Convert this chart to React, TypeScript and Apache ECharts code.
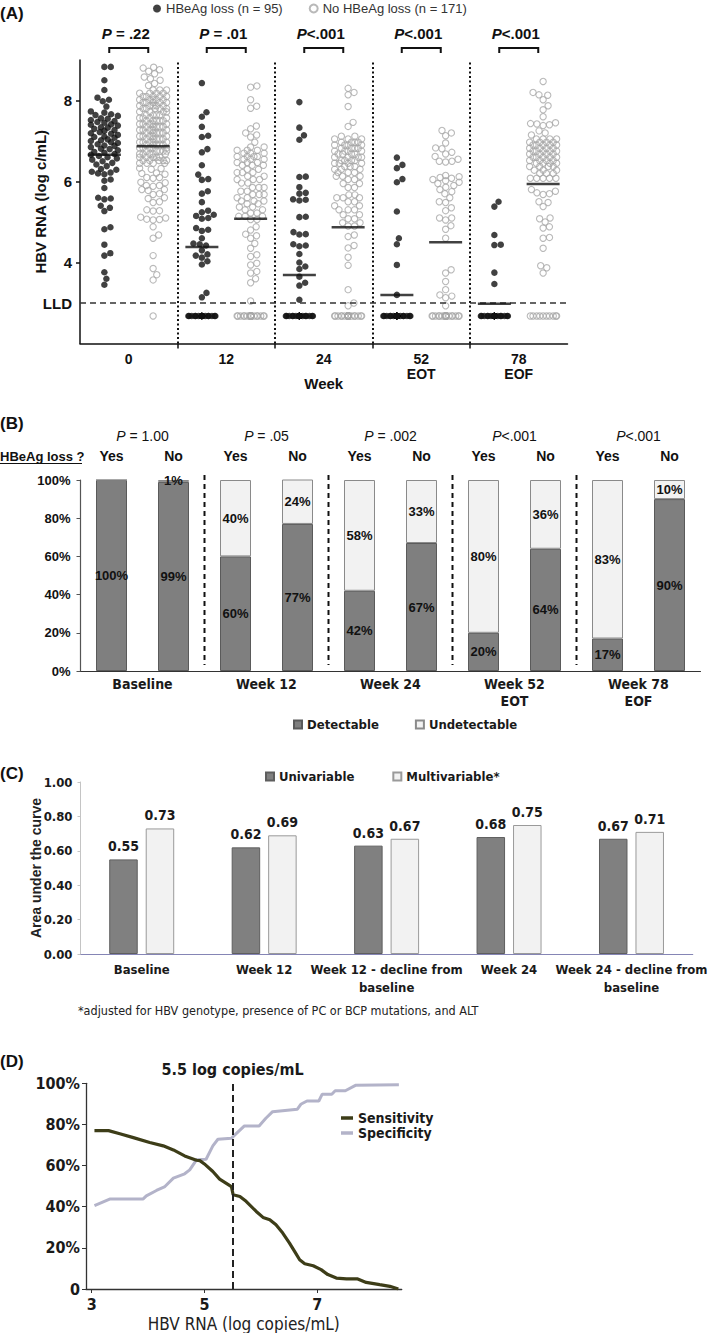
import React, { useEffect, useRef } from "react";
import * as echarts from "echarts";

const ARIAL = "'Liberation Sans', Arial, sans-serif";
const NARROW = "'Liberation Sans Narrow', 'Arial Narrow', 'DejaVu Sans Condensed', 'Liberation Sans', sans-serif";

// ---------------- Panel A data ----------------
const weekLabels = ["0", "12", "24", "52\nEOT", "78\nEOF"];
const pValuesA = [" = .22", " = .01", "<.001", "<.001", "<.001"];
const nameLoss = "HBeAg loss (n = 95)";
const nameNoLoss = "No HBeAg loss (n = 171)";

const wk0Loss = [8.83, 8.83, 8.5, 8.26, 8.07, 8.02, 7.98, 7.85,
  7.73, 7.7, 7.66, 7.64, 7.62, 7.56, 7.55, 7.52, 7.49, 7.47, 7.45, 7.41, 7.4, 7.38, 7.34, 7.33, 7.3, 7.27,
  7.25, 7.22, 7.19, 7.18, 7.15, 7.11, 7.1, 7.08, 7.04, 7.02, 7.0, 6.97, 6.95, 6.92, 6.89, 6.88, 6.85, 6.81,
  6.8, 6.77, 6.73, 6.71, 6.68, 6.66, 6.63, 6.6, 6.57, 6.54, 6.5, 6.46, 6.42, 6.38, 6.31, 6.29, 6.24, 6.22,
  6.2, 6.18, 6.05, 6.02, 5.84, 5.6, 5.58, 5.56, 5.4, 5.35, 5.27, 4.87, 4.82, 4.44, 4.23, 4.17, 3.76, 3.6, 3.45];
const wk0NoLoss = [8.82, 8.8, 8.76, 8.72, 8.66, 8.58, 8.54, 8.5, 8.42, 8.37,
  8.26, 8.26, 8.26, 8.18, 8.18, 8.18, 8.18, 8.1, 8.1, 8.1, 8.1, 8.1, 8.02, 8.02, 8.02, 8.02, 8.02,
  7.95, 7.95, 7.95, 7.95, 7.95, 7.87, 7.87, 7.87, 7.87, 7.87, 7.8, 7.8, 7.8, 7.8, 7.8, 7.72, 7.72, 7.72, 7.72,
  7.64, 7.64, 7.64, 7.64, 7.57, 7.57, 7.57, 7.57, 7.5, 7.5, 7.5, 7.5, 7.5, 7.42, 7.42, 7.42, 7.42, 7.42,
  7.35, 7.35, 7.35, 7.35, 7.35, 7.27, 7.27, 7.27, 7.27, 7.27, 7.2, 7.2, 7.2, 7.2, 7.2, 7.12, 7.12, 7.12, 7.12, 7.12,
  7.05, 7.05, 7.05, 7.05, 7.05, 6.97, 6.97, 6.97, 6.97, 6.97, 6.9, 6.9, 6.9, 6.9, 6.9, 6.83, 6.83, 6.83, 6.83, 6.83,
  6.75, 6.75, 6.75, 6.75, 6.75, 6.68, 6.68, 6.68, 6.68, 6.68, 6.6, 6.6, 6.6, 6.6, 6.6, 6.52, 6.52, 6.52, 6.52, 6.52,
  6.45, 6.45, 6.45, 6.45,
  6.33, 6.32, 6.3, 6.21, 6.2, 6.18, 6.1, 6.1, 6.08, 5.98, 5.97, 5.9, 5.9, 5.88, 5.8, 5.8, 5.78, 5.7, 5.68, 5.6,
  5.58, 5.5, 5.48, 5.3, 5.28, 5.27, 5.12, 5.1, 5.07, 5.06, 5.05, 4.88, 4.68, 4.6, 4.17, 3.85, 3.7, 3.57];
const wk12Loss = [8.43, 7.71, 7.6, 7.35, 7.13, 7.1, 6.8, 6.72, 6.4, 6.17, 6.06, 6.04, 5.76, 5.7, 5.49, 5.28,
  5.24, 5.18, 5.15, 5.1, 5.08, 4.85, 4.81, 4.78, 4.6, 4.47, 4.45, 4.42, 4.3, 4.2, 4.17, 4.12, 4.03, 3.95, 3.25, 3.14];
const wk12NoLoss = [8.36, 8.33, 8.02, 7.86, 7.81, 7.37, 7.3, 7.2, 7.15, 7.1, 6.97,
  6.85, 6.85, 6.77, 6.77, 6.77, 6.7, 6.7, 6.7, 6.62, 6.62, 6.62, 6.62, 6.55, 6.55, 6.55, 6.47, 6.47, 6.47,
  6.4, 6.4, 6.4, 6.3, 6.3, 6.22, 6.22, 6.22, 6.13, 6.13, 6.05, 6.05, 6.05, 5.96, 5.96,
  5.85, 5.85, 5.85, 5.76, 5.76, 5.68, 5.68, 5.68, 5.6, 5.6, 5.52, 5.52, 5.52, 5.45, 5.45, 5.37, 5.37, 5.3, 5.3,
  5.22, 5.22, 5.14, 5.14, 5.14, 5.06, 5.06,
  4.88, 4.8, 4.7, 4.66, 4.6, 4.47, 4.35, 4.19, 4.15, 3.98, 3.94, 3.78, 3.74, 3.6, 3.5, 3.05];
const wk24Loss = [7.96, 7.33, 7.14, 7.03, 6.12, 6.11, 5.86, 5.72, 5.7, 5.56, 5.55, 5.53, 5.13, 5.12, 4.75, 4.7,
  4.69, 4.45, 4.42, 4.4, 4.21, 4.0, 3.9, 3.84, 3.65, 3.5, 3.43, 3.08];
const wk24NoLoss = [8.3, 8.2, 8.14, 7.85, 7.46, 7.36,
  7.12, 7.12, 7.05, 7.05, 7.05, 6.97, 6.97, 6.97, 6.97, 6.9, 6.9, 6.9, 6.9, 6.82, 6.82, 6.82, 6.82,
  6.75, 6.75, 6.75, 6.75, 6.68, 6.68, 6.68, 6.68, 6.6, 6.6, 6.6, 6.6, 6.52, 6.52, 6.52, 6.52, 6.45, 6.45, 6.45, 6.45,
  6.37, 6.37, 6.37, 6.3, 6.3, 6.3, 6.22, 6.22, 6.22, 6.13, 6.13, 6.13, 6.05, 6.05, 5.95, 5.95, 5.85, 5.85,
  5.67, 5.67, 5.6, 5.6, 5.6, 5.5, 5.5, 5.4, 5.4, 5.3, 5.3, 5.3,
  5.18, 5.18, 5.08, 5.08, 4.98, 4.98, 4.9, 4.9,
  4.68, 4.64, 4.42, 4.36, 4.13, 3.93, 3.33, 3.0, 2.93];
const wk52Loss = [6.59, 6.41, 6.33, 6.06, 5.98, 5.26, 4.6, 4.45, 3.94, 3.2];
const wk52NoLoss = [7.26, 7.2, 7.13, 6.95, 6.83, 6.81, 6.72, 6.68, 6.62, 6.55, 6.5, 6.5, 6.48, 6.15, 6.12, 6.1,
  6.08, 6.05, 6.02, 5.98, 5.95, 5.9, 5.86, 5.8, 5.75, 5.7, 5.6, 5.5, 5.48, 5.35, 5.28, 5.1, 5.1, 5.05, 4.91,
  4.82, 4.6, 3.82, 3.74, 3.53, 3.33, 3.2, 3.17, 3.13, 2.93];
const wk78Loss = [5.5, 5.38, 4.68, 4.44, 4.43, 3.75, 3.47];
const wk78NoLoss = [8.47, 8.2, 8.14, 8.13, 8.02, 7.87, 7.77, 7.6, 7.45, 7.43, 7.42, 7.4, 7.38, 7.25, 7.2, 7.15,
  7.05, 7.05, 7.05, 7.05, 6.97, 6.97, 6.97, 6.97, 6.9, 6.9, 6.9, 6.9, 6.9, 6.82, 6.82, 6.82, 6.82,
  6.75, 6.75, 6.75, 6.75, 6.75, 6.68, 6.68, 6.68, 6.68, 6.6, 6.6, 6.6, 6.6, 6.6, 6.52, 6.52, 6.52, 6.52,
  6.45, 6.45, 6.45, 6.45, 6.37, 6.37, 6.37, 6.37, 6.28, 6.28, 6.28, 6.2, 6.2, 6.2,
  6.08, 6.08, 6.08, 6.08, 6.08, 5.8, 5.76, 5.72, 5.7, 5.68, 5.5, 5.48, 5.38, 5.1, 5.08, 5.0, 4.88, 4.85,
  4.62, 4.6, 4.35, 3.92, 3.87, 3.74];
const undetectableLoss = [0, 23, 38, 40, 34];
const undetectableNoLoss = [1, 26, 44, 25, 10];
const undetectablePlotValue = 2.68;
const lldValue = 3;
const medianLoss = [6.66, 4.38, 3.69, 3.2, 2.98];
const medianNoLoss = [6.87, 5.08, 4.87, 4.5, 5.94];

// ---------------- Panel B data ----------------
const timepointsB = ["Baseline", "Week 12", "Week 24", "Week 52\nEOT", "Week 78\nEOF"];
const pValuesB = [" = 1.00", " = .05", " = .002", "<.001", "<.001"];
const barKeysB = ["BL-Y", "BL-N", "W12-Y", "W12-N", "W24-Y", "W24-N", "W52-Y", "W52-N", "W78-Y", "W78-N"];
const yesNoB = ["Yes", "No", "Yes", "No", "Yes", "No", "Yes", "No", "Yes", "No"];
const detectablePct = [100, 99, 60, 77, 42, 67, 20, 64, 17, 90];
const undetectablePct = [0, 1, 40, 24, 58, 33, 80, 36, 83, 10];

// ---------------- Panel C data ----------------
const predictorsC = ["Baseline", "Week 12", "Week 12 - decline from\nbaseline", "Week 24", "Week 24 - decline from\nbaseline"];
const aucUnivariable = [0.55, 0.62, 0.63, 0.68, 0.67];
const aucMultivariable = [0.73, 0.69, 0.67, 0.75, 0.71];

// ---------------- Panel D data ----------------
const sensitivityCurve = [[3.05, 77], [3.3, 77], [3.5, 75.5], [3.74, 73.6], [4.03, 71.2], [4.27, 69.6], [4.45, 67.6],
  [4.65, 64.7], [4.86, 62.6], [4.92, 62.4], [5.0, 60.8], [5.15, 57.1], [5.27, 53.4], [5.48, 49.8], [5.51, 45.8],
  [5.63, 45], [5.74, 42.6], [5.92, 37.7], [6.04, 34.8], [6.16, 33.7], [6.27, 31.2], [6.39, 27.2], [6.51, 22.3],
  [6.6, 18.3], [6.69, 14.2], [6.78, 12.3], [6.93, 11.3], [7.07, 9.4], [7.19, 7], [7.34, 5.3], [7.52, 4.9],
  [7.72, 4.9], [7.87, 3.2], [8.11, 2.1], [8.29, 1.3], [8.44, 0]];
const specificityCurve = [[3.05, 40.5], [3.32, 43.7], [3.91, 43.7], [3.97, 45.3], [4.15, 47.9], [4.3, 49.8],
  [4.45, 53.9], [4.65, 56], [4.74, 57.9], [4.86, 62.8], [5.03, 63.1], [5.15, 69.6], [5.24, 72.8], [5.48, 73.3],
  [5.56, 75.4], [5.71, 79.3], [5.97, 79.3], [6.09, 83], [6.21, 86.2], [6.65, 87.4], [6.71, 89.8], [6.82, 91.4],
  [7.03, 91.4], [7.09, 94.7], [7.26, 94.7], [7.32, 96.4], [7.5, 96.4], [7.68, 99], [8.45, 99.3]];
const cutoffValue = 5.5;

// ---------------- layout ----------------
const GA = { left: 80, top: 60, width: 487.5, height: 283.5 };
const A_MIN = 2, A_MAX = 9;
const GB = { left: 80.5, top: 480, width: 620, height: 191 };
const GC = { left: 80.5, top: 782, width: 627.5, height: 172 };
const GD = { left: 86, top: 1083.3, width: 315.7, height: 206 };

function swarmOffsets(values: number[], diam: number, maxHalf: number, pxPerUnit: number): number[] {
  const order = values.map((_, i) => i).sort((a, b) => values[a] - values[b]);
  const placed: { x: number; y: number }[] = [];
  const out: number[] = values.map(() => 0);
  const d2 = diam * diam;
  const fallback = [0, maxHalf, -maxHalf, maxHalf / 2, -maxHalf / 2, maxHalf / 4, -maxHalf / 4, (3 * maxHalf) / 4, (-3 * maxHalf) / 4];
  for (const i of order) {
    const y = values[i] * pxPerUnit;
    const near = placed.filter((q) => Math.abs(q.y - y) < diam);
    const cands = [0];
    for (const q of near) {
      const dx = Math.sqrt(Math.max(0, d2 - (q.y - y) * (q.y - y)));
      cands.push(q.x + dx, q.x - dx);
    }
    cands.sort((a, b) => Math.abs(a) - Math.abs(b));
    let best: number | null = null;
    for (const c of cands) {
      if (Math.abs(c) > maxHalf + 1e-6) continue;
      let ok = true;
      for (const q of near) {
        if ((q.x - c) * (q.x - c) + (q.y - y) * (q.y - y) < d2 - 1e-6) { ok = false; break; }
      }
      if (ok) { best = c; break; }
    }
    if (best === null) {
      let bestScore = -1;
      for (const c of fallback) {
        let s = Infinity;
        for (const q of near) s = Math.min(s, Math.hypot(q.x - c, q.y - y));
        if (s > bestScore + 1e-6) { bestScore = s; best = c; }
      }
    }
    placed.push({ x: best as number, y });
    out[i] = best as number;
  }
  return out;
}

function buildSwarm(byWeek: number[][], undet: number[], side: number) {
  const pxPerY = GA.height / (A_MAX - A_MIN);
  const pxPerGroup = GA.width / 5;
  const pts: number[][] = [];
  byWeek.forEach((vals, g) => {
    const all = vals.concat(Array.from({ length: undet[g] }, () => undetectablePlotValue));
    const offs = swarmOffsets(all, 6.4, 13.5, pxPerY);
    all.forEach((v, k) => pts.push([g + 0.5 + side * 0.25 + offs[k] / pxPerGroup, v]));
  });
  return pts;
}

const lossByWeek = [wk0Loss, wk12Loss, wk24Loss, wk52Loss, wk78Loss];
const noLossByWeek = [wk0NoLoss, wk12NoLoss, wk24NoLoss, wk52NoLoss, wk78NoLoss];

function txt(text: string, x: number, y: number, extra: any = {}) {
  return {
    type: "text", x, y, silent: true,
    style: {
      text, fill: "#111", fontFamily: ARIAL, fontSize: 14,
      align: "left", verticalAlign: "middle", textAlign: "left", textVerticalAlign: "middle",
      ...extra,
    },
  };
}

function buildOption() {
  const pxPerGroup = GA.width / 5;
  const graphic: any[] = [];
  graphic.push(txt("(A)", 0, 13, { fontWeight: "bold", fontSize: 17 }));
  graphic.push(txt("(B)", 0, 423, { fontWeight: "bold", fontSize: 17 }));
  graphic.push(txt("(C)", 0, 773, { fontWeight: "bold", fontSize: 17 }));
  graphic.push(txt("(D)", 0, 1061, { fontWeight: "bold", fontSize: 17 }));
  pValuesA.forEach((p, g) => {
    const c = GA.left + (g + 0.5) * pxPerGroup;
    graphic.push(txt("{i|P}" + p, c - 3, 33, {
      fontWeight: "bold", fontSize: 15, align: "center", textAlign: "center",
      rich: { i: { fontStyle: "italic", fontWeight: "bold", fontSize: 15, fontFamily: ARIAL, fill: "#111" } },
    }));
    graphic.push({
      type: "polyline", silent: true,
      shape: { points: [[c - 19.5, 53], [c - 19.5, 48], [c + 19.5, 48], [c + 19.5, 53]] },
      style: { stroke: "#111", lineWidth: 2, fill: "none" },
    });
  });
  for (let k = 1; k <= 4; k++) {
    const x = GB.left + (GB.width / 5) * k;
    graphic.push({
      type: "line", silent: true,
      shape: { x1: x, y1: GB.top - 5, x2: x, y2: GB.top + GB.height - 6 },
      style: { stroke: "#111", lineWidth: 2, lineDash: [5, 4] },
    });
  }
  graphic.push(txt("HBeAg loss ?", 0, 456, { fontWeight: "bold", fontSize: 13 }));
  graphic.push({ type: "line", silent: true, shape: { x1: 0, y1: 463.5, x2: 82, y2: 463.5 }, style: { stroke: "#111", lineWidth: 1.2 } });
  graphic.push(txt("*adjusted for HBV genotype, presence of PC or BCP mutations, and ALT", 78, 1010, { fontFamily: NARROW, fontSize: 12.5, fill: "#222" }));

  const blackPts = buildSwarm(lossByWeek, undetectableLoss, -1);
  const greyPts = buildSwarm(noLossByWeek, undetectableNoLoss, 1);
  const medianPts = medianLoss.map((m, g) => [g + 0.25, m]).concat(medianNoLoss.map((m, g) => [g + 0.75, m]));

  const boldA = { fontFamily: ARIAL, fontWeight: "bold", color: "#111" };
  const narrowBold = { fontFamily: NARROW, fontWeight: "bold", color: "#1a1a1a" };

  return {
    animation: false,
    backgroundColor: "#ffffff",
    textStyle: { fontFamily: ARIAL },
    grid: [GA, GB, GC, GD],
    legend: [
      {
        data: [nameLoss, nameNoLoss], left: 148, top: -3, icon: "circle", itemWidth: 8, itemHeight: 8, itemGap: 26,
        textStyle: { fontFamily: ARIAL, fontSize: 13, color: "#333" }, selectedMode: false,
      },
      {
        data: ["Detectable", "Undetectable"], left: 288, top: 713, icon: "rect", itemWidth: 8, itemHeight: 8, itemGap: 36,
        textStyle: { ...narrowBold, fontSize: 13 }, selectedMode: false,
      },
      {
        data: ["Univariable", "Multivariable*"], left: 260, top: 765, icon: "rect", itemWidth: 8, itemHeight: 8, itemGap: 38,
        textStyle: { ...narrowBold, fontSize: 13 }, selectedMode: false,
      },
      {
        data: ["Sensitivity", "Specificity"], left: 336, top: 1106, orient: "vertical", icon: "rect", itemWidth: 12,
        itemHeight: 3.5, itemGap: 1, textStyle: { ...narrowBold, fontSize: 14 }, selectedMode: false,
      },
    ],
    xAxis: [
      {
        type: "value", gridIndex: 0, min: 0, max: 5, splitLine: { show: false },
        axisLine: { show: true, lineStyle: { color: "#111", width: 1.5 } },
        axisTick: { show: true, customValues: [1, 2, 3, 4], length: 5, lineStyle: { color: "#111", width: 1.5 } },
        axisLabel: {
          customValues: [0.5, 1.5, 2.5, 3.5, 4.5], formatter: (v: number) => weekLabels[Math.floor(v)],
          ...boldA, fontSize: 14, lineHeight: 15, margin: 8,
        },
        name: "Week", nameLocation: "middle", nameGap: 32, nameMoveOverlap: false,
        nameTextStyle: { ...boldA, fontSize: 15 },
      },
      {
        type: "category", gridIndex: 1, data: barKeysB,
        axisLine: { show: true, lineStyle: { color: "#333", width: 1.2 } },
        axisTick: { show: false }, axisLabel: { show: false },
      },
      {
        type: "category", gridIndex: 1, data: timepointsB, position: "bottom",
        axisLine: { show: false }, axisTick: { show: false },
        axisLabel: { ...narrowBold, fontSize: 14, lineHeight: 17, margin: 4 },
      },
      {
        type: "category", gridIndex: 1, data: yesNoB, position: "top",
        axisLine: { show: false }, axisTick: { show: false },
        axisLabel: { ...boldA, fontSize: 14, margin: 17 },
      },
      {
        type: "category", gridIndex: 1, data: pValuesB.map((p) => "{i|P}" + p), position: "top",
        axisLine: { show: false }, axisTick: { show: false },
        axisLabel: {
          fontFamily: ARIAL, fontSize: 14, color: "#111", margin: 37, formatter: (v: string) => v,
          rich: { i: { fontStyle: "italic", fontFamily: ARIAL, fontSize: 14, color: "#111" } },
        },
      },
      {
        type: "category", gridIndex: 2, data: predictorsC,
        axisLine: { show: true, lineStyle: { color: "#8585b5", width: 1.2 } },
        axisTick: { show: false },
        axisLabel: { ...narrowBold, fontSize: 13, lineHeight: 18, margin: 6, interval: 0 },
      },
      {
        type: "value", gridIndex: 3, min: 2.9, max: 8.5, splitLine: { show: false },
        axisLine: { show: true, lineStyle: { color: "#333", width: 1.3 } },
        axisTick: { show: true, customValues: [3, 5, 7], length: 4, lineStyle: { color: "#333" } },
        axisLabel: { customValues: [3, 5, 7], ...narrowBold, fontSize: 16, margin: 7 },
        name: "HBV RNA (log copies/mL)", nameLocation: "middle", nameGap: 26, nameMoveOverlap: false,
        nameTextStyle: { fontFamily: NARROW, fontSize: 17, color: "#222" },
      },
    ],
    yAxis: [
      {
        type: "value", gridIndex: 0, min: A_MIN, max: A_MAX, splitLine: { show: false },
        axisLine: { show: true, lineStyle: { color: "#111", width: 1.5 } },
        axisTick: { show: true, customValues: [4, 6, 8], length: 4, lineStyle: { color: "#111", width: 1.5 } },
        axisLabel: {
          customValues: [3, 4, 6, 8], formatter: (v: number) => (v === lldValue ? "LLD" : String(v)),
          ...boldA, fontSize: 15, margin: 8,
        },
        name: "HBV RNA (log c/mL)", nameLocation: "middle", nameGap: 32, nameRotate: 90, nameMoveOverlap: false,
        nameTextStyle: { ...boldA, fontSize: 15 },
      },
      {
        type: "value", gridIndex: 1, min: 0, max: 100, interval: 20, splitLine: { show: false },
        axisLine: { show: true, lineStyle: { color: "#555", width: 1.2 } },
        axisTick: { show: true, length: 4, lineStyle: { color: "#555" } },
        axisLabel: { formatter: "{value}%", ...boldA, fontSize: 13, margin: 10 },
      },
      {
        type: "value", gridIndex: 2, min: 0, max: 1, interval: 0.2, splitLine: { show: false },
        axisLine: { show: true, lineStyle: { color: "#c4c4c4" } },
        axisTick: { show: true, length: 3, lineStyle: { color: "#c4c4c4" } },
        axisLabel: { formatter: (v: number) => v.toFixed(2), ...narrowBold, fontSize: 13, margin: 8 },
        name: "Area under the curve", nameLocation: "middle", nameGap: 38, nameRotate: 90, nameMoveOverlap: false,
        nameTextStyle: { fontFamily: ARIAL, fontWeight: "bold", fontSize: 14, color: "#222" },
      },
      {
        type: "value", gridIndex: 3, min: 0, max: 100, interval: 20, splitLine: { show: false },
        axisLine: { show: true, lineStyle: { color: "#333", width: 1.3 } },
        axisTick: { show: true, length: 4, lineStyle: { color: "#333" } },
        axisLabel: { formatter: (v: number) => (v === 0 ? "0" : v + "%"), ...narrowBold, fontSize: 16, margin: 6 },
      },
    ],
    series: [
      {
        type: "scatter", name: nameLoss, xAxisIndex: 0, yAxisIndex: 0, data: blackPts, symbol: "circle",
        symbolSize: 6.5, itemStyle: { color: "#111" }, z: 3, silent: true,
        markLine: {
          silent: true, symbol: ["none", "none"], label: { show: false },
          data: [
            ...[1, 2, 3, 4].map((x) => ({ xAxis: x, lineStyle: { color: "#111", width: 2, type: [2, 2.5] } })),
            { yAxis: lldValue, lineStyle: { color: "#333", width: 1.5, type: [6, 4] } },
          ],
        },
      },
      {
        type: "scatter", name: nameNoLoss, xAxisIndex: 0, yAxisIndex: 0, data: greyPts, symbol: "circle",
        symbolSize: 6.3, itemStyle: { color: "rgba(255,255,255,0)", borderColor: "#a8a8a8", borderWidth: 1.1 },
        z: 3, silent: true,
      },
      {
        type: "scatter", name: "median", xAxisIndex: 0, yAxisIndex: 0, data: medianPts, symbol: "rect",
        symbolSize: [33, 2.5], itemStyle: { color: "#111" }, z: 5, silent: true,
      },
      {
        type: "bar", name: "Detectable", xAxisIndex: 1, yAxisIndex: 1, stack: "b", data: detectablePct, barWidth: "50%",
        itemStyle: { color: "#7f7f7f", borderColor: "#5a5a5a", borderWidth: 1 },
        label: { show: true, position: "inside", formatter: (p: any) => (p.value ? p.value + "%" : ""), ...boldA, fontSize: 13 },
      },
      {
        type: "bar", name: "Undetectable", xAxisIndex: 1, yAxisIndex: 1, stack: "b", data: undetectablePct, barWidth: "50%",
        itemStyle: { color: "#f2f2f2", borderColor: "#8a8a8a", borderWidth: 1 },
        label: { show: true, position: "inside", formatter: (p: any) => (p.value ? p.value + "%" : ""), ...boldA, fontSize: 13 },
      },
      {
        type: "bar", name: "Univariable", xAxisIndex: 5, yAxisIndex: 2, data: aucUnivariable, barWidth: 28.5, barGap: "28%",
        itemStyle: { color: "#808080", borderColor: "#5e5e5e", borderWidth: 1 },
        label: { show: true, position: "top", distance: 6, formatter: (p: any) => p.value.toFixed(2), ...narrowBold, fontSize: 14 },
      },
      {
        type: "bar", name: "Multivariable*", xAxisIndex: 5, yAxisIndex: 2, data: aucMultivariable, barWidth: 28.5, barGap: "28%",
        itemStyle: { color: "#f2f2f2", borderColor: "#9a9a9a", borderWidth: 1 },
        label: { show: true, position: "top", distance: 6, formatter: (p: any) => p.value.toFixed(2), ...narrowBold, fontSize: 14 },
      },
      {
        type: "line", name: "Sensitivity", xAxisIndex: 6, yAxisIndex: 3, data: sensitivityCurve, showSymbol: false,
        symbol: "none", color: "#3d3d18", lineStyle: { color: "#3d3d18", width: 3.2 }, silent: true, z: 3,
        markLine: {
          silent: true, symbol: ["none", "none"],
          lineStyle: { color: "#222", width: 2, type: [7, 4] },
          label: { show: true, position: "end", distance: 6, formatter: "5.5 log copies/mL", ...narrowBold, fontSize: 16 },
          data: [{ xAxis: cutoffValue }],
        },
      },
      {
        type: "line", name: "Specificity", xAxisIndex: 6, yAxisIndex: 3, data: specificityCurve, showSymbol: false,
        symbol: "none", color: "#b3b3c9", lineStyle: { color: "#b3b3c9", width: 3 }, silent: true, z: 2,
      },
    ],
    graphic,
  };
}

export default function App() {
  const ref = useRef<HTMLDivElement>(null);
  useEffect(() => {
    if (!ref.current) return;
    const chart = echarts.init(ref.current, undefined, { renderer: "svg" });
    chart.setOption(buildOption() as any);
    return () => chart.dispose();
  }, []);
  return (
    <div
      ref={ref}
      style={{ position: "absolute", left: 0, top: 0, width: 709, height: 1333, background: "#fff" }}
    />
  );
}
